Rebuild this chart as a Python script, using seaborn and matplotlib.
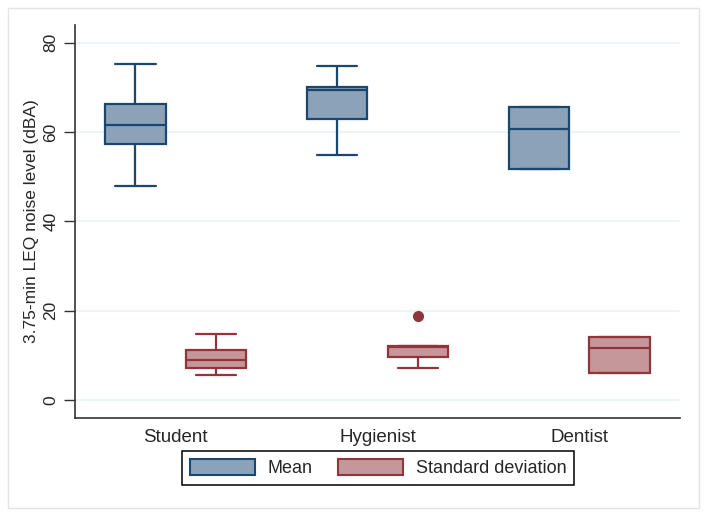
import matplotlib
matplotlib.use("Agg")
import matplotlib.pyplot as plt
from matplotlib.patches import Patch, Rectangle
import pandas as pd
import seaborn as sns

# values (five points per box: min, q1, median, q3, max)
groups = ["Student", "Hygienist", "Dentist"]
stats = ["Mean", "Standard deviation"]

mean_student = [47.9, 57.4, 61.7, 66.4, 75.2]
mean_hygienist = [54.9, 63.0, 69.5, 70.1, 74.8]
mean_dentist = [51.8, 51.8, 60.6, 65.6, 65.6]

sd_student = [5.7, 7.2, 8.9, 11.2, 14.9]
sd_hygienist = [7.2, 9.6, 11.9, 12.1, 18.8]
sd_dentist = [6.1, 6.1, 11.7, 14.2, 14.2]

yticks = [0, 20, 40, 60, 80]

navy = "#1a476f"
navy_fill = "#8ca2b8"
maroon = "#90353b"
maroon_fill = "#c5979b"

rows = []
for g, vals in zip(groups, [mean_student, mean_hygienist, mean_dentist]):
    for v in vals:
        rows.append({"group": g, "stat": "Mean", "value": v})
for g, vals in zip(groups, [sd_student, sd_hygienist, sd_dentist]):
    for v in vals:
        rows.append({"group": g, "stat": "Standard deviation", "value": v})
df = pd.DataFrame(rows)

sns.set_style("white")
plt.rcParams["font.family"] = ["Liberation Sans", "DejaVu Sans"]

fig = plt.figure(figsize=(7.04, 5.16), dpi=100)
ax = fig.add_axes([0.1065, 0.19, 0.8595, 0.7616])

for stat, fill, line in [("Mean", navy_fill, navy), ("Standard deviation", maroon_fill, maroon)]:
    sub = df[df["stat"] == stat]
    sns.boxplot(data=sub, x="group", y="value", hue="stat", hue_order=stats,
                order=groups, palette={stats[0]: fill, stats[1]: fill},
                linecolor=line, linewidth=1.6, saturation=1, gap=0.25,
                whis=1.5, dodge=True, legend=False, ax=ax, capwidths=0.2,
                flierprops=dict(marker="o", markersize=7,
                                markerfacecolor=line, markeredgecolor=line))

ax.set_xlim(-0.5, 2.5)
ax.set_ylim(-4, 84)
ax.set_yticks(yticks)
ax.set_yticklabels([str(t) for t in yticks])
ax.set_xlabel("")
ax.set_ylabel("3.75-min LEQ noise level (dBA)", fontsize=12.5, labelpad=3)
ax.yaxis.grid(True, color="#eaf2f3", lw=1.2)
ax.set_axisbelow(True)

ax.tick_params(axis="y", labelrotation=90, labelsize=12.5, length=8, width=1,
               color="#333333", pad=4, left=True)
ax.tick_params(axis="x", labelsize=13.5, length=0, pad=8)
for lab in ax.get_yticklabels():
    lab.set_verticalalignment("center")

for s in ["top", "right"]:
    ax.spines[s].set_visible(False)
for s in ["left", "bottom"]:
    ax.spines[s].set_color("#333333")
    ax.spines[s].set_linewidth(1.2)

handles = [Patch(facecolor=navy_fill, edgecolor=navy, linewidth=1.5, label="Mean"),
           Patch(facecolor=maroon_fill, edgecolor=maroon, linewidth=1.5, label="Standard deviation")]
leg = fig.legend(handles=handles, loc="center", bbox_to_anchor=(0.537, 0.093), ncol=2,
                 fontsize=13, frameon=True, fancybox=False, framealpha=1,
                 handlelength=3.6, handleheight=1.0, handletextpad=0.7,
                 columnspacing=1.4, borderpad=0.45)
leg.get_frame().set_edgecolor("black")
leg.get_frame().set_linewidth(1.1)

fig.add_artist(Rectangle((0.011, 0.015), 0.982, 0.97, transform=fig.transFigure,
                         fill=False, edgecolor="#e4e4e4", lw=1))

fig.savefig("out.png", dpi=100)
